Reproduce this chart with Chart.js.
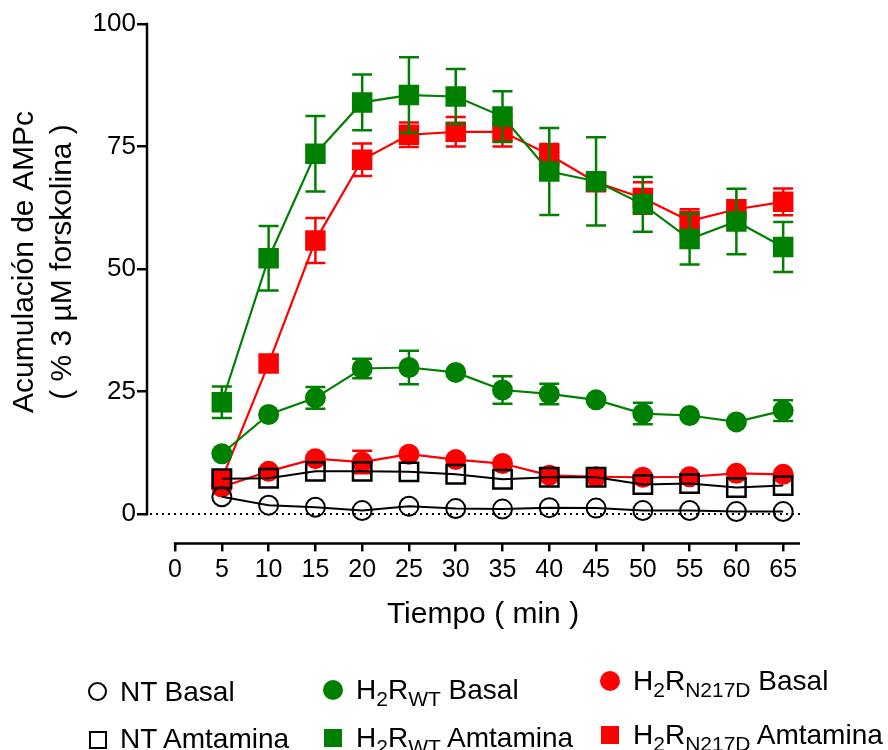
<!DOCTYPE html>
<html>
<head>
    <meta charset="utf-8" />
    <title>Acumulacion de AMPc</title>
    <style>
        body {
            margin: 0;
            background: #fff;
        }
        #wrap {
            position: relative;
            width: 888px;
            height: 750px;
            overflow: hidden;
            font-family: "Liberation Sans", Arial, sans-serif;
        }
        .lg-text {
            position: absolute;
            font-size: 28px;
            line-height: 28px;
            color: #000;
            white-space: nowrap;
        }
        .lg-text sub {
            font-size: 21px;
            line-height: 0;
            vertical-align: -7px;
        }
        .mk {
            position: absolute;
            box-sizing: border-box;
        }
    </style>
</head>
<body>
    <div id="wrap">
        <canvas id="chartCanvas" width="888" height="750"></canvas>

        <!-- legend (html so the subscripts stay real text) -->
        <span class="mk" style="left:88px;top:682px;width:19px;height:19px;border:2px solid #000;border-radius:50%;"></span>
        <div class="lg-text" style="left:120px;top:678px;">NT Basal</div>
        <span class="mk" style="left:89px;top:731px;width:18px;height:18px;border:2px solid #000;"></span>
        <div class="lg-text" style="left:120px;top:725px;">NT Amtamina</div>

        <span class="mk" style="left:323px;top:680px;width:20px;height:20px;background:#008000;border-radius:50%;"></span>
        <div class="lg-text" style="left:356px;top:676px;">H<sub>2</sub>R<sub>WT</sub> Basal</div>
        <span class="mk" style="left:324px;top:729px;width:18px;height:18px;background:#008000;"></span>
        <div class="lg-text" style="left:356px;top:724px;">H<sub>2</sub>R<sub>WT</sub> Amtamina</div>

        <span class="mk" style="left:600px;top:671px;width:20px;height:20px;background:#ff0000;border-radius:50%;"></span>
        <div class="lg-text" style="left:633px;top:667px;">H<sub>2</sub>R<sub>N217D</sub> Basal</div>
        <span class="mk" style="left:601px;top:726px;width:18px;height:18px;background:#ff0000;"></span>
        <div class="lg-text" style="left:633px;top:721px;">H<sub>2</sub>R<sub>N217D</sub> Amtamina</div>
    </div>

    <script src="https://cdn.jsdelivr.net/npm/chart.js"></script>
    <script>
        // ---- data (% of 3 uM forskolin) ----
        var tiempo = [5, 10, 15, 20, 25, 30, 35, 40, 45, 50, 55, 60, 65];
        var xTicks = [0, 5, 10, 15, 20, 25, 30, 35, 40, 45, 50, 55, 60, 65];
        var yTicks = [0, 25, 50, 75, 100];

        var ntBasal = [3.5, 1.8, 1.4, 0.7, 1.6, 1.1, 1.0, 1.3, 1.2, 0.7, 0.7, 0.5, 0.5];
        var ntAmtamina = [7.2, 7.3, 8.7, 8.7, 8.6, 8.1, 7.1, 7.5, 7.5, 6.0, 6.2, 5.4, 5.8];

        var wtBasal = [12.3, 20.3, 23.7, 29.7, 29.9, 28.9, 25.3, 24.5, 23.3, 20.5, 20.1, 18.8, 21.1];
        var wtBasalErr = [null, null, 2.2, 2.0, 3.4, null, 2.8, 2.1, null, 2.2, null, null, 2.1];
        var wtAmtamina = [22.8, 52.2, 73.5, 84.0, 85.5, 85.2, 81.1, 69.9, 67.9, 63.2, 56.1, 59.7, 54.5];
        var wtAmtaminaErr = [3.2, 6.6, 7.7, 5.7, 7.7, 5.6, 5.2, 8.9, 9.0, 5.6, 5.2, 6.7, 5.1];

        var n217dBasal = [5.5, 8.7, 11.3, 10.6, 12.2, 11.1, 10.3, 7.9, 7.6, 7.5, 7.6, 8.3, 8.1];
        var n217dBasalErr = [null, null, null, 2.3, null, null, null, null, null, null, null, null, null];
        var n217dAmtamina = [7.1, 30.7, 55.8, 72.3, 77.4, 78.0, 78.0, 73.3, 67.7, 64.5, 59.8, 62.2, 63.7];
        var n217dAmtaminaErr = [null, null, 4.6, 3.3, 2.5, 3.0, 3.0, 2.2, null, 3.2, 2.4, null, 2.75];

        var GREEN = '#008000';
        var RED = '#ff0000';
        var FONT = '"Liberation Sans", Arial, sans-serif';

        function pts(values) {
            return tiempo.map(function (t, i) { return { x: t, y: values[i] }; });
        }

        // error bars, drawn just before each dataset so its own markers sit on top
        var errorBars = {
            id: 'errorBars',
            beforeDatasetDraw: function (chart, args) {
                var ds = chart.data.datasets[args.index];
                if (!ds.errors) return;
                var ctx = chart.ctx;
                var xs = chart.scales.x, ys = chart.scales.y;
                ctx.save();
                ctx.strokeStyle = ds.borderColor;
                ctx.lineWidth = 2.5;
                for (var i = 0; i < tiempo.length; i++) {
                    var e = ds.errors[i];
                    if (e == null) continue;
                    var px = xs.getPixelForValue(tiempo[i]);
                    var top = ys.getPixelForValue(ds.data[i].y + e);
                    var bot = ys.getPixelForValue(ds.data[i].y - e);
                    ctx.beginPath();
                    ctx.moveTo(px, top); ctx.lineTo(px, bot);
                    ctx.moveTo(px - 10, top); ctx.lineTo(px + 10, top);
                    ctx.moveTo(px - 10, bot); ctx.lineTo(px + 10, bot);
                    ctx.stroke();
                }
                ctx.restore();
            }
        };

        // prism style axes: offset x axis, y axis only 0..100, dotted zero line, titles
        var axesDeco = {
            id: 'axesDeco',
            beforeDatasetsDraw: function (chart) {
                var ctx = chart.ctx;
                var xs = chart.scales.x, ys = chart.scales.y;
                var area = chart.chartArea;
                ctx.save();
                ctx.strokeStyle = '#000';

                // y axis line
                ctx.lineWidth = 2.5;
                ctx.beginPath();
                ctx.moveTo(area.left, ys.getPixelForValue(100) - 1.25);
                ctx.lineTo(area.left, ys.getPixelForValue(0) + 1.25);
                ctx.stroke();

                // x axis line
                ctx.beginPath();
                ctx.moveTo(xs.getPixelForValue(0) - 1.25, area.bottom);
                ctx.lineTo(area.right, area.bottom);
                ctx.stroke();

                // dotted baseline at 0
                ctx.lineWidth = 2;
                ctx.setLineDash([2, 4]);
                ctx.beginPath();
                ctx.moveTo(area.left + 3, ys.getPixelForValue(0));
                ctx.lineTo(area.right, ys.getPixelForValue(0));
                ctx.stroke();
                ctx.restore();
            },
            afterDraw: function (chart) {
                var ctx = chart.ctx;
                ctx.save();
                ctx.fillStyle = '#000';
                ctx.font = '30px ' + FONT;
                ctx.textAlign = 'center';
                ctx.textBaseline = 'alphabetic';
                ctx.fillText('Tiempo ( min )', 483, 623);

                ctx.translate(33, 262);
                ctx.rotate(-Math.PI / 2);
                ctx.fillText('Acumulación de AMPc', 0, 0);
                ctx.fillText('( % 3 µM forskolina )', 0, 38);
                ctx.restore();
            }
        };

        var canvas = document.getElementById('chartCanvas');
        var chart1 = new Chart(canvas.getContext('2d'), {
            type: 'line',
            data: {
                datasets: [{
                    label: 'NT Basal',
                    data: pts(ntBasal),
                    borderColor: '#000',
                    backgroundColor: 'rgba(0,0,0,0)',
                    pointStyle: 'circle',
                    pointRadius: 9.5,
                    pointBorderWidth: 2,
                    borderWidth: 2
                }, {
                    label: 'NT Amtamina',
                    data: pts(ntAmtamina),
                    borderColor: '#000',
                    backgroundColor: 'rgba(0,0,0,0)',
                    pointStyle: 'rect',
                    pointRadius: 13,
                    pointBorderWidth: 2.5,
                    borderWidth: 2
                }, {
                    label: 'H2R WT Amtamina',
                    data: pts(wtAmtamina),
                    errors: wtAmtaminaErr,
                    borderColor: GREEN,
                    backgroundColor: GREEN,
                    pointStyle: 'rect',
                    pointRadius: 14.5,
                    pointBorderWidth: 0,
                    borderWidth: 2.2
                }, {
                    label: 'H2R WT Basal',
                    data: pts(wtBasal),
                    errors: wtBasalErr,
                    borderColor: GREEN,
                    backgroundColor: GREEN,
                    pointStyle: 'circle',
                    pointRadius: 10.5,
                    pointBorderWidth: 0,
                    borderWidth: 2.2
                }, {
                    label: 'H2R N217D Amtamina',
                    data: pts(n217dAmtamina),
                    errors: n217dAmtaminaErr,
                    borderColor: RED,
                    backgroundColor: RED,
                    pointStyle: 'rect',
                    pointRadius: 14.5,
                    pointBorderWidth: 0,
                    borderWidth: 2.2
                }, {
                    label: 'H2R N217D Basal',
                    data: pts(n217dBasal),
                    errors: n217dBasalErr,
                    borderColor: RED,
                    backgroundColor: RED,
                    pointStyle: 'circle',
                    pointRadius: 10.5,
                    pointBorderWidth: 0,
                    borderWidth: 2.2
                }]
            },
            options: {
                responsive: false,
                animation: false,
                devicePixelRatio: 1,
                layout: { padding: { left: 0, right: 88, top: 24, bottom: 0 } },
                plugins: {
                    legend: { display: false },
                    tooltip: { enabled: false }
                },
                elements: { line: { tension: 0, fill: false } },
                scales: {
                    x: {
                        type: 'linear',
                        min: -3,
                        max: 66.8,
                        afterBuildTicks: function (scale) {
                            scale.ticks = xTicks.map(function (v) { return { value: v }; });
                        },
                        afterFit: function (scale) { scale.height = 206.6; },
                        ticks: {
                            color: '#000',
                            font: { family: FONT, size: 25 },
                            padding: 4,
                            maxRotation: 0,
                            autoSkip: false
                        },
                        grid: {
                            display: true,
                            drawOnChartArea: false,
                            drawTicks: true,
                            tickLength: 8,
                            color: '#000',
                            lineWidth: 2.5
                        },
                        border: { display: false },
                        title: { display: false }
                    },
                    y: {
                        type: 'linear',
                        min: -6,
                        max: 100,
                        afterBuildTicks: function (scale) {
                            scale.ticks = yTicks.map(function (v) { return { value: v }; });
                        },
                        afterFit: function (scale) { scale.width = 147; },
                        ticks: {
                            color: '#000',
                            font: { family: FONT, size: 26 },
                            padding: 1
                        },
                        grid: {
                            display: true,
                            drawOnChartArea: false,
                            drawTicks: true,
                            tickLength: 10,
                            color: '#000',
                            lineWidth: 2.5
                        },
                        border: { display: false },
                        title: { display: false }
                    }
                }
            },
            plugins: [errorBars, axesDeco]
        });
    </script>
</body>
</html>
